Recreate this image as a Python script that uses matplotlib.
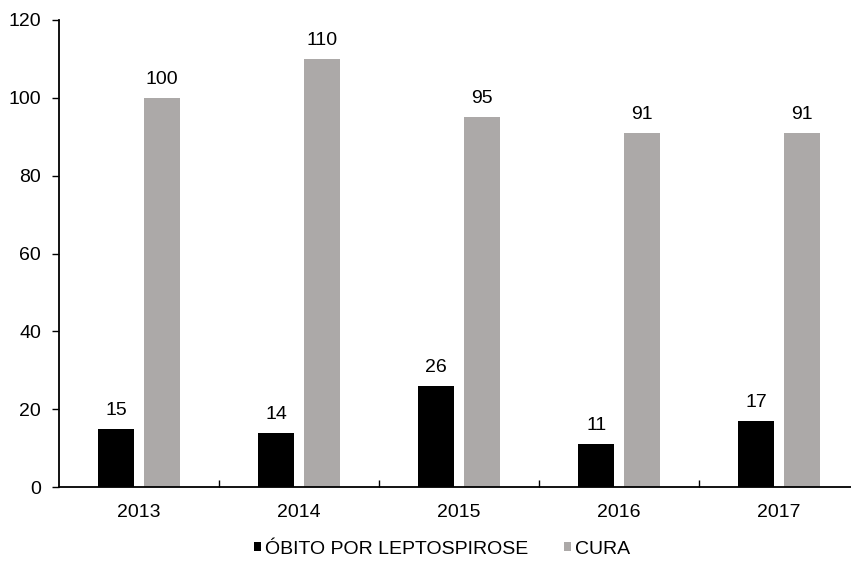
import numpy as np
import matplotlib.pyplot as plt
from matplotlib.ticker import FixedLocator, NullFormatter

plt.rcParams['font.family'] = ['Liberation Sans', 'DejaVu Sans']

# dados por ano
anos = ['2013', '2014', '2015', '2016', '2017']
obito = [15, 14, 26, 11, 17]
cura = [100, 110, 95, 91, 91]

cor_obito = '#000000'
cor_cura = '#aca9a8'

fig = plt.figure(figsize=(8.51, 5.61), dpi=100)
ax = fig.add_axes([59/851, 74/561, 800/851, 467/561])

x = np.arange(len(anos))
larg = 0.225
desl = 0.142

b1 = ax.bar(x - desl, obito, larg, color=cor_obito, label='ÓBITO POR LEPTOSPIROSE')
b2 = ax.bar(x + desl, cura, larg, color=cor_cura, label='CURA')

for barras in (b1, b2):
    for b in barras:
        ax.annotate(f'{b.get_height():.0f}', (b.get_x() + b.get_width()/2, b.get_height()),
                    xytext=(0, 10), textcoords='offset points', ha='center', va='baseline',
                    fontsize=14)

ax.set_xlim(-0.5, len(anos) - 0.5)
ax.set_ylim(0, 120)
ax.set_yticks(range(0, 121, 20))
ax.tick_params(axis='y', direction='out', length=5, width=1, labelsize=14, pad=8)

# rótulos nos centros, marcas entre as categorias
ax.set_xticks(x)
ax.set_xticklabels(anos)
ax.tick_params(axis='x', which='major', length=0, labelsize=14, pad=12)
ax.xaxis.set_minor_locator(FixedLocator(np.arange(0.5, len(anos) - 1, 1)))
ax.xaxis.set_minor_formatter(NullFormatter())
ax.tick_params(axis='x', which='minor', direction='in', length=5, width=1)

for s in ('top', 'right'):
    ax.spines[s].set_visible(False)
for s in ('left', 'bottom'):
    ax.spines[s].set_linewidth(1.3)

fig.legend(handles=[b1, b2], loc='center', bbox_to_anchor=(442/851, 1 - 549/561),
           ncol=2, frameon=False, fontsize=14, handlelength=0.38, handleheight=0.38,
           handletextpad=0.2, columnspacing=1.85)

fig.savefig('out.png', dpi=100)
